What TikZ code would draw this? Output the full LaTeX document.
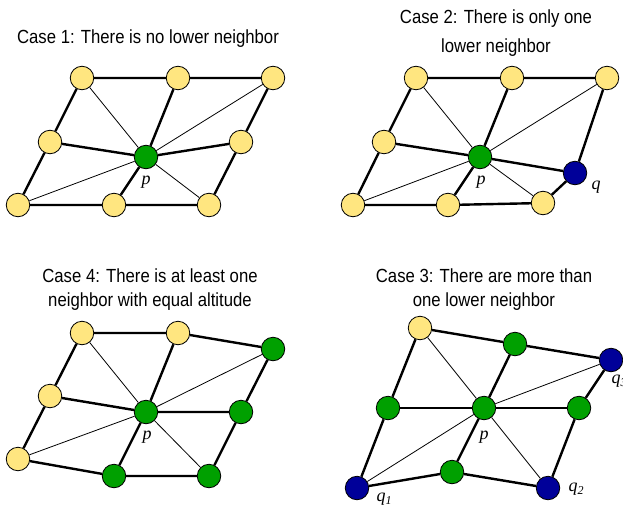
\documentclass[tikz,border=0pt]{standalone}
\usepackage{fontspec}
\setmainfont{Liberation Sans}[FakeStretch=0.88]
\newfontfamily\labelfont{Liberation Serif}
\usetikzlibrary{positioning}

\definecolor{lowyellow}{HTML}{FFE680}
\definecolor{midgreen}{HTML}{00A000}
\definecolor{deepblue}{HTML}{000099}

\newcommand{\idx}[1]{\raisebox{-0.4ex}{\fontsize{12}{12}\selectfont\itshape #1}}

\tikzset{
  vert/.style={circle, draw=black, line width=0.8pt, minimum size=23.5pt, inner sep=0pt},
  higher/.style={vert, fill=lowyellow},
  equal/.style={vert, fill=midgreen},
  lower/.style={vert, fill=deepblue},
  mesh/.style={line width=2.4pt},
  diag/.style={line width=0.8pt},
  heading/.style={align=center, anchor=north, inner sep=0pt, font=\fontsize{19}{24}\selectfont},
  vlabel/.style={inner sep=0pt, font=\labelfont\itshape\fontsize{18}{20}\selectfont}
}

\begin{document}
\begin{tikzpicture}[x=1pt,y=-1pt]
    \useasboundingbox (0,0) rectangle (623,511);

    % case 1
    \node [heading] (h1) at (148,29.3) {Case 1: There is no lower neighbor};
    \node [higher] (tl1) at (82,78) {};
    \node [higher] (tm1) at (178,78) {};
    \node [higher] (tr1) at (273,78) {};
    \node [higher] (ml1) at (50,142) {};
    \node [equal]  (c1)  at (146,157) {};
    \node [higher] (mr1) at (241,142) {};
    \node [higher] (bl1) at (18,205) {};
    \node [higher] (bm1) at (114,205) {};
    \node [higher] (br1) at (209,205) {};
    \draw [mesh] (tl1) -- (tm1) -- (tr1) -- (mr1) -- (br1) -- (bm1) -- (bl1) -- (ml1) -- (tl1);
    \draw [mesh] (ml1) -- (c1) -- (mr1);
    \draw [mesh] (tm1) -- (c1) -- (bm1);
    \draw [diag] (tl1) -- (c1) -- (br1);
    \draw [diag] (bl1) -- (c1) -- (tr1);
    \node [vlabel] (p1) at (146,182) {p};

    % case 2
    \node [heading, font=\fontsize{19}{29}\selectfont] (h2) at (496,9.8) {Case 2: There is only one\\lower neighbor};
    \node [higher] (tl2) at (416,78) {};
    \node [higher] (tm2) at (512,78) {};
    \node [higher] (tr2) at (607,78) {};
    \node [higher] (ml2) at (384,142) {};
    \node [equal]  (c2)  at (480,157) {};
    \node [lower]  (mr2) at (575,173) {};
    \node [higher] (bl2) at (353,205) {};
    \node [higher] (bm2) at (448,205) {};
    \node [higher] (br2) at (543,203) {};
    \draw [mesh] (tl2) -- (tm2) -- (tr2) -- (mr2) -- (br2) -- (bm2) -- (bl2) -- (ml2) -- (tl2);
    \draw [mesh] (ml2) -- (c2) -- (mr2);
    \draw [mesh] (tm2) -- (c2) -- (bm2);
    \draw [diag] (tl2) -- (c2) -- (br2);
    \draw [diag] (bl2) -- (c2) -- (tr2);
    \node [vlabel] (p2) at (481,182) {p};
    \node [vlabel] (q2) at (596,187) {q};

    % case 4
    \node [heading] (h4) at (150,268.3) {Case 4: There is at least one\\neighbor with equal altitude};
    \node [higher] (tl4) at (82,333) {};
    \node [higher] (tm4) at (178,333) {};
    \node [equal]  (tr4) at (273,349) {};
    \node [higher] (ml4) at (50,396) {};
    \node [equal]  (c4)  at (146,412) {};
    \node [equal]  (mr4) at (241,412) {};
    \node [higher] (bl4) at (18,459) {};
    \node [equal]  (bm4) at (114,476) {};
    \node [equal]  (br4) at (209,476) {};
    \draw [mesh] (tl4) -- (tm4) -- (tr4) -- (mr4) -- (br4) -- (bm4) -- (bl4) -- (ml4) -- (tl4);
    \draw [mesh] (ml4) -- (c4) -- (mr4);
    \draw [mesh] (tm4) -- (c4) -- (bm4);
    \draw [diag] (tl4) -- (c4) -- (br4);
    \draw [diag] (bl4) -- (c4) -- (tr4);
    \node [vlabel] (p4) at (147,437) {p};

    % case 3
    \node [heading] (h3) at (484,268.3) {Case 3: There are more than\\one lower neighbor};
    \node [higher] (tl3) at (420,328) {};
    \node [equal]  (tm3) at (515,344) {};
    \node [lower]  (tr3) at (611,360) {};
    \node [equal]  (ml3) at (388,408) {};
    \node [equal]  (c3)  at (484,408) {};
    \node [equal]  (mr3) at (579,408) {};
    \node [lower]  (bl3) at (357,488) {};
    \node [equal]  (bm3) at (452,472) {};
    \node [lower]  (br3) at (548,488) {};
    \draw [mesh] (tl3) -- (tm3) -- (tr3) -- (mr3) -- (br3) -- (bm3) -- (bl3) -- (ml3) -- (tl3);
    \draw [mesh] (ml3) -- (c3) -- (mr3);
    \draw [mesh] (tm3) -- (c3) -- (bm3);
    \draw [diag] (tl3) -- (c3) -- (br3);
    \draw [diag] (bl3) -- (c3) -- (tr3);
    \node [vlabel] (p3) at (484,437) {p};
    \node [vlabel] (q31) at (384,499) {q\idx{1}};
    \node [vlabel] (q32) at (576,489) {q\idx{2}};
    \node [vlabel] (q33) at (619,381) {q\idx{3}};
\end{tikzpicture}
\end{document}
